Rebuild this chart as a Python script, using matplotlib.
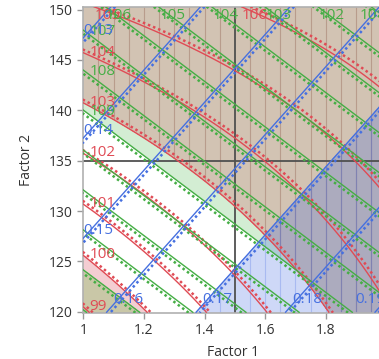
import numpy as np
import matplotlib
matplotlib.use("Agg")
import matplotlib.pyplot as plt
from matplotlib.transforms import offset_copy

plt.rcParams['font.family'] = ['Open Sans', 'DejaVu Sans']

# ---- response surface models (coefficients) ----
# red:   R = c0 + c1*u + c2*v + c3*u*v + c4*u^2 + c5*v^2,  u = x-1.5, v = (y-135)/10
red_coef = [103.6669, 3.4819, 1.4784, -1.0145, -0.2798, 0.0136]
# green: G = a + bx*(x-1) + by*(y-y0)
green_coef = [108.0, -5.7, -0.252, 143.99]
# blue:  B = b0 + bx*x + by*y
blue_coef = [0.24407, 0.03387, -0.001005]

red_levels = [99, 100, 101, 102, 103, 104, 105, 106, 107]
green_levels = [101, 102, 103, 104, 105, 106, 107, 108, 109, 110, 111, 112, 113, 114]
blue_levels = [0.13, 0.14, 0.15, 0.16, 0.17, 0.18, 0.19]
red_labeled = [99, 100, 101, 102, 103, 104, 105, 106]
green_labeled = [101, 102, 103, 104, 105, 106, 107, 108, 109]
blue_labeled = [0.13, 0.14, 0.15, 0.16, 0.17, 0.18, 0.19]
red_limits = [100, 103]
green_limits = [109, 113]
blue_limit = 0.17
crosshair = [1.5, 135]

x_ticks = [1, 1.2, 1.4, 1.6, 1.8]
x_ticklabels = ["1", "1.2", "1.4", "1.6", "1.8"]
y_ticks = [120, 125, 130, 135, 140, 145, 150]
stripe_x = [1.05, 1.1, 1.15, 1.2, 1.25, 1.3, 1.35, 1.4, 1.45, 1.55, 1.6, 1.65,
            1.7, 1.75, 1.8, 1.85, 1.9, 1.95]

RED = '#E04B55'
GREEN = '#45AE45'
BLUE = '#4670E0'
PINK = '#F4CDD2'
OLIVE = '#C9C7A7'
GREENFILL = '#D3EDD3'
BROWN = '#D2C3B3'
BLUEFILL = (60/255, 100/255, 225/255, 0.25)


def red_model(x, y):
    u = x - 1.5
    v = (y - 135) / 10
    c = red_coef
    return c[0] + c[1]*u + c[2]*v + c[3]*u*v + c[4]*u*u + c[5]*v*v


def green_model(x, y):
    a, bx, by, y0 = green_coef
    return a + bx*(x - 1) + by*(y - y0)


def blue_model(x, y):
    b0, bx, by = blue_coef
    return b0 + bx*x + by*y


fig = plt.figure(figsize=(3.79, 3.59), dpi=100)
ax = fig.add_axes([82.7/379, 46.3/359, 303.6/379, 306.1/359])
XR = (0.998, 2.0)
YR = (119.9, 150.3)

xs = np.linspace(XR[0], XR[1], 600)
ys = np.linspace(YR[0], YR[1], 600)
X, Y = np.meshgrid(xs, ys)
R = red_model(X, Y)
G = green_model(X, Y)
B = blue_model(X, Y)

ax.contourf(X, Y, R, levels=[R.min()-1, red_limits[0]], colors=[PINK], zorder=0.1)
ax.contourf(X, Y, G, levels=[green_limits[1], G.max()+1], colors=[OLIVE], zorder=0.2)
ax.contourf(X, Y, G, levels=[G.min()-1, green_limits[0]], colors=[GREENFILL], zorder=0.3)
brown = ax.contourf(X, Y, R, levels=[red_limits[1], R.max()+1], colors=[BROWN], zorder=0.4)
lc = ax.vlines(stripe_x, YR[0], YR[1], colors='#B89C8C', lw=0.8, zorder=0.5)
lc.set_clip_path(brown.get_paths()[0], ax.transData)
bl = ax.contourf(X, Y, B, levels=[blue_limit, B.max()+1], colors=[BLUEFILL], zorder=0.6)
lc2 = ax.vlines(stripe_x, YR[0], YR[1], colors=[BLUEFILL], lw=0.8, zorder=0.7)
lc2.set_clip_path(bl.get_paths()[0], ax.transData)

ax.axvline(crosshair[0], color='#505050', lw=1.3, zorder=2)
ax.axhline(crosshair[1], color='#505050', lw=1.3, zorder=2)

texts = []


def draw(F, levels, eps, color, labeled, fmt, lab_off):
    levels = np.asarray(levels, dtype=float)
    cs = ax.contour(X, Y, F, levels=levels, colors=[color], linewidths=1.0, zorder=3)
    ax.contour(X, Y, F, levels=levels + eps, colors=[color], linewidths=1.8,
               linestyles=[(0, (1, 1.2))], zorder=3)
    for lev, path in zip(cs.levels, cs.get_paths()):
        if not any(abs(lev - l) < 1e-6 for l in labeled):
            continue
        for seg in path.to_polygons(closed_only=False):
            if len(seg) < 2:
                continue
            p = seg[0] if seg[0][0] <= seg[-1][0] else seg[-1]
            if abs(p[0] - XR[0]) < 1e-3:
                dx, dy, va = lab_off['left']
            elif abs(p[1] - YR[1]) < 1e-3:
                dx, dy, va = lab_off['top']
            else:
                dx, dy, va = lab_off['bottom']
            tr = offset_copy(ax.transData, fig=fig, x=dx, y=dy, units='dots')
            t = ax.text(p[0], p[1], fmt(lev), color=color, fontsize=11, ha='left', va=va,
                        transform=tr, zorder=4, clip_on=False)
            texts.append((t, dx, dy))


draw(R, red_levels, 0.06, RED, red_labeled, lambda v: f"{v:.0f}",
     {'left': (7, 0, 'center'), 'top': (1, -1, 'top'), 'bottom': (7, 6, 'bottom')})
draw(G, green_levels, 0.09, GREEN, green_labeled, lambda v: f"{v:.0f}",
     {'left': (7, -2, 'center'), 'top': (1, -1, 'top'), 'bottom': (7, 6, 'bottom')})
draw(B, blue_levels, 0.00045, BLUE, blue_labeled, lambda v: f"{v:.2f}",
     {'left': (1, 8, 'center'), 'top': (1, -1, 'top'), 'bottom': (7, 6, 'bottom')})

ax.set_xlim(*XR)
ax.set_ylim(*YR)
ax.set_xticks(x_ticks)
ax.set_xticklabels(x_ticklabels)
ax.set_yticks(y_ticks)
ax.tick_params(direction='out', length=4, width=1, color='#999999', labelsize=10, labelcolor='#333333')
for s in ['left', 'bottom', 'top']:
    ax.spines[s].set_color('#B0B0B0')
    ax.spines[s].set_linewidth(1.2)
ax.spines['right'].set_visible(False)
ax.set_xlabel('Factor 1', fontsize=10, color='#333333')
ax.set_ylabel('Factor 2', fontsize=10, color='#333333')
ax.xaxis.set_label_coords(0.494, -0.105)
ax.yaxis.set_label_coords(-0.16, 0.5)

# keep contour labels inside the plot frame on the right, as the reference does
fig.canvas.draw()
axbb = ax.get_window_extent()
for t, dx, dy in texts:
    bb = t.get_window_extent()
    if bb.x1 > axbb.x1:
        t.set_transform(offset_copy(ax.transData, fig=fig, x=dx - (bb.x1 - axbb.x1) - 1,
                                    y=dy, units='dots'))

fig.savefig('out.png', dpi=100)
